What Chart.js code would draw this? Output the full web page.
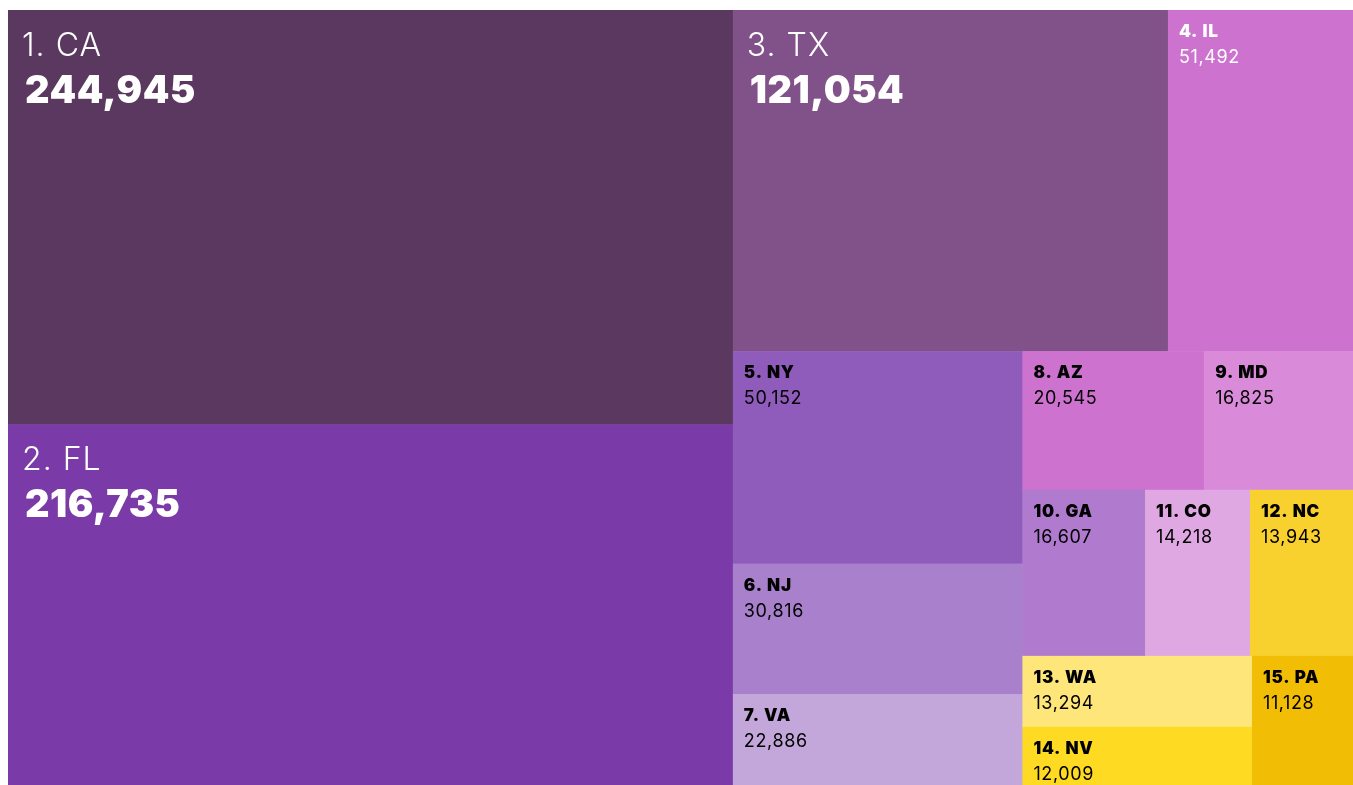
<!DOCTYPE html>
<html>
<head>
<meta charset="utf-8">
<script src="https://cdn.jsdelivr.net/npm/chart.js@4.4.1/dist/chart.umd.min.js"></script>
<style>
  html, body { margin: 0; padding: 0; background: #fff; overflow: hidden; }
  #wrap { width: 1353px; height: 795px; }
</style>
</head>
<body>
<div id="wrap"><canvas id="chart" width="1353" height="795"></canvas></div>
<script>
  // ==== data ====
  const states = ['CA', 'FL', 'TX', 'IL', 'NY', 'NJ', 'VA', 'AZ', 'MD', 'GA', 'CO', 'NC', 'WA', 'NV', 'PA'];
  const totals = [244945, 216735, 121054, 51492, 50152, 30816, 22886, 20545, 16825, 16607, 14218, 13943, 13294, 12009, 11128];
  const colors = ['#5b3860', '#7a3ba8', '#815289', '#ce72d0', '#8f5cbb', '#a880cc', '#c3a6da', '#ce72d0',
    '#d98ad8', '#b07ace', '#e0a8e3', '#f8d12e', '#fee67a', '#fedb22', '#f2bd05'];
  const textColors = ['#fff', '#fff', '#fff', '#fff', '#000', '#000', '#000', '#000',
    '#000', '#000', '#000', '#000', '#000', '#000', '#000'];

  // layout space (stretched onto the chart area by the scales)
  const LW = 1000, LH = 795;

  /*
    ================= squarified layout (d3 style, golden ratio) =================
  */
  function dice(row, x0, y0, x1, y1) {
    let k = row.value ? (x1 - x0) / row.value : 0;
    row.children.forEach(n => { n.y0 = y0; n.y1 = y1; n.x0 = x0; n.x1 = x0 += n.value * k; });
  }
  function slice(row, x0, y0, x1, y1) {
    let k = row.value ? (y1 - y0) / row.value : 0;
    row.children.forEach(n => { n.x0 = x0; n.x1 = x1; n.y0 = y0; n.y1 = y0 += n.value * k; });
  }
  function squarify(nodes, x0, y0, x1, y1) {
    const ratio = (1 + Math.sqrt(5)) / 2;
    let value = nodes.reduce((s, n) => s + n.value, 0);
    let i0 = 0, i1 = 0, n = nodes.length;
    while (i0 < n) {
      let dx = x1 - x0, dy = y1 - y0;
      let sumValue = nodes[i1++].value;
      let minValue = sumValue, maxValue = sumValue;
      let alpha = Math.max(dy / dx, dx / dy) / (value * ratio);
      let beta = sumValue * sumValue * alpha;
      let minRatio = Math.max(maxValue / beta, beta / minValue);
      for (; i1 < n; ++i1) {
        let v = nodes[i1].value;
        sumValue += v;
        if (v < minValue) minValue = v;
        if (v > maxValue) maxValue = v;
        beta = sumValue * sumValue * alpha;
        let newRatio = Math.max(maxValue / beta, beta / minValue);
        if (newRatio > minRatio) { sumValue -= v; break; }
        minRatio = newRatio;
      }
      let row = { value: sumValue, children: nodes.slice(i0, i1) };
      if (dx < dy) dice(row, x0, y0, x1, y0 += dy * sumValue / value);
      else slice(row, x0, y0, x0 += dx * sumValue / value, y1);
      value -= sumValue;
      i0 = i1;
    }
    return nodes;
  }

  let cells = squarify(states.map((s, i) => ({ label: s, value: totals[i], rank: i + 1 })), 0, 0, LW, LH);

  /*
    ================= drawing plugin =================
  */
  const fmt = v => v.toLocaleString('en-US');

  const treemapPlugin = {
    id: 'treemap',
    beforeDatasetsDraw(chart) {
      let { ctx, scales: { x, y } } = chart;
      ctx.save();
      chart.data.datasets[0].data.forEach((c, i) => {
        let px0 = x.getPixelForValue(c.x0), px1 = x.getPixelForValue(c.x1);
        let py0 = y.getPixelForValue(c.y0), py1 = y.getPixelForValue(c.y1);
        ctx.fillStyle = colors[i];
        ctx.fillRect(px0, py0, px1 - px0 + 0.5, py1 - py0 + 0.5);
      });
      chart.data.datasets[0].data.forEach((c, i) => {
        let px0 = x.getPixelForValue(c.x0), py0 = y.getPixelForValue(c.y0);
        ctx.fillStyle = textColors[i];
        ctx.textBaseline = 'alphabetic';
        ctx.textAlign = 'left';
        if (c.value > 100000) {
          ctx.font = '300 32px Inter';
          ctx.letterSpacing = '1px';
          ctx.fillText(c.rank + '. ' + c.label, px0 + 14, py0 + 46);
          ctx.font = '900 38px Inter';
          ctx.letterSpacing = '0.5px';
          ctx.fillText(fmt(c.value), px0 + 17, py0 + 93);
        } else {
          ctx.font = '900 17px Inter';
          ctx.letterSpacing = '0.8px';
          ctx.fillText(c.rank + '. ' + c.label, px0 + 11, py0 + 27);
          ctx.font = '400 18px Inter';
          ctx.letterSpacing = '0.6px';
          ctx.fillText(fmt(c.value), px0 + 11, py0 + 53);
        }
      });
      ctx.restore();
    }
  };

  let chartTree = new Chart(document.getElementById('chart').getContext('2d'), {
    type: 'scatter',
    data: {
      datasets: [{
        label: 'Totals',
        data: cells.map(c => ({ x: c.x0, y: c.y0, x0: c.x0, x1: c.x1, y0: c.y0, y1: c.y1, value: c.value, label: c.label, rank: c.rank })),
        pointRadius: 0
      }]
    },
    options: {
      responsive: false,
      animation: false,
      layout: { padding: { left: 8, top: 10, right: 0, bottom: 4 } },
      scales: {
        x: { type: 'linear', min: 0, max: LW, display: false },
        y: { type: 'linear', min: 0, max: LH, reverse: true, display: false }
      },
      plugins: { legend: { display: false }, tooltip: { enabled: false } }
    },
    plugins: [treemapPlugin]
  });
</script>
</body>
</html>
